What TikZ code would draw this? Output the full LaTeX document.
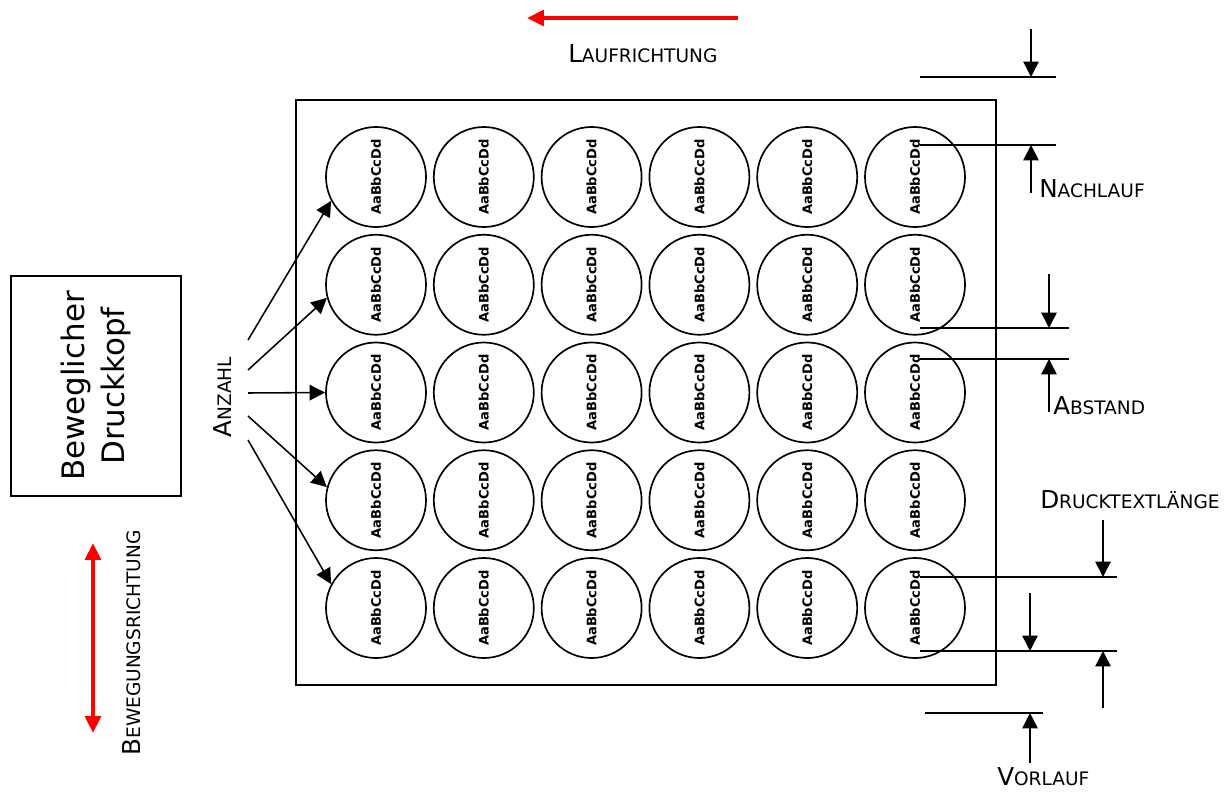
\documentclass[tikz,border=0pt]{standalone}
\usepackage{graphicx}
\usepackage{fontspec}
\setmainfont{DejaVu Sans}
\usetikzlibrary{arrows.meta}
\newcommand{\mysmallcaps}[2]{{\fontsize{17.5}{20}\selectfont #1\fontsize{13.2}{15}\selectfont #2}}
\tikzset{
  plate/.style={draw,line width=1.5pt},
  cup/.style={draw,circle,line width=1.2pt,minimum size=2.5cm,inner sep=0pt,
    font=\fontsize{9.3}{10}\selectfont\bfseries},
  dimline/.style={line width=1.1pt},
  dimarrow/.style={line width=1.1pt,-{Triangle[width=11pt,length=11pt]}},
  redarrow/.style={red,line width=3.5pt,-{Triangle[width=11pt,length=12pt]}},
  lbl/.style={anchor=base west,inner sep=0pt}
}

\begin{document}
\begin{tikzpicture}[x=0.025cm,y=-0.025cm]
  \useasboundingbox (0,0) rectangle (1231,791);

  % Druckbild mit 5 x 6 Etiketten
  \draw[plate] (296,100) rectangle (996,685);
  \foreach \r in {1,...,5}
    \foreach \c in {1,...,6}
      \node[cup] (c-\r-\c) at ({376+107.8*(\c-1)},{177+107.75*(\r-1)})
        {\rotatebox{90}{AaBbCcDd}};

  % Laufrichtung
  \draw[redarrow] (738,18) -- (527,18);
  \node[lbl] (lauf) at (568,62) {\mysmallcaps{L}{AUFRICHTUNG}};

  % Druckkopf links
  \node[draw,line width=1.1pt,rotate=90,minimum width=5.5cm,minimum height=4.25cm,
    align=center,font=\fontsize{22}{29}\selectfont] (kopf) at (96,386)
    {Beweglicher\\Druckkopf};
  \draw[redarrow,{Triangle[width=11pt,length=12pt]}-{Triangle[width=11pt,length=12pt]}]
    (93,543) -- (93,733);
  \node[rotate=90,inner sep=0pt] (beweg) at (132,643) {\mysmallcaps{B}{EWEGUNGSRICHTUNG}};

  % Anzahl
  \node[rotate=90,inner sep=0pt] (anz) at (223,397) {\mysmallcaps{A}{NZAHL}};
  \foreach \r/\ya/\ang in {1/340/208,2/370/195,3/393/180,4/416/165,5/440/152}
    \draw[dimarrow] (248,\ya) coordinate (a\r) -- (c-\r-1.\ang);

  % Nachlauf
  \draw[dimline] (920,77) -- (1056,77);
  \draw[dimarrow] (1031,29) -- (1031,77);
  \draw[dimline] (920,145) -- (1056,145);
  \draw[dimarrow] (1031,193) -- (1031,145);
  \node[lbl] (nach) at (1039,197) {\mysmallcaps{N}{ACHLAUF}};

  % Abstand
  \draw[dimline] (920,328) -- (1069,328);
  \draw[dimarrow] (1049,274) -- (1049,328);
  \draw[dimline] (920,359) -- (1069,359);
  \draw[dimarrow] (1049,412) -- (1049,359);
  \node[lbl] (abst) at (1053,414) {\mysmallcaps{A}{BSTAND}};

  % Drucktextlaenge und Vorlauf
  \node[lbl] (dtl) at (1040,508) {\mysmallcaps{D}{RUCKTEXTLÄNGE}};
  \draw[dimline] (920,577) -- (1117,577);
  \draw[dimarrow] (1103,520) -- (1103,577);
  \draw[dimline] (920,651) -- (1117,651);
  \draw[dimarrow] (1030,593) -- (1030,651);
  \draw[dimarrow] (1103,708) -- (1103,651);
  \draw[dimline] (925,713) -- (1043,713);
  \draw[dimarrow] (1030,763) -- (1030,713);
  \node[lbl] (vor) at (997,785) {\mysmallcaps{V}{ORLAUF}};
\end{tikzpicture}
\end{document}
